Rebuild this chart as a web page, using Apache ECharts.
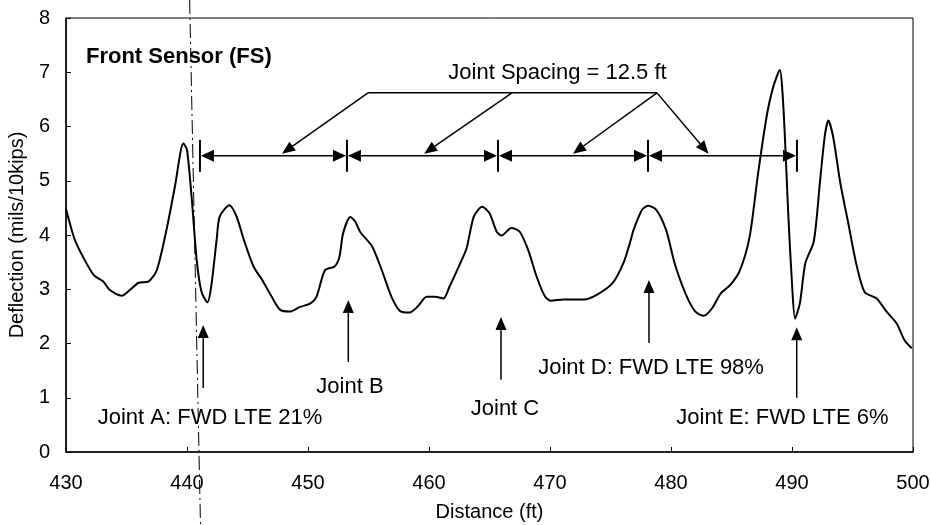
<!DOCTYPE html>
<html><head><meta charset="utf-8">
<script src="https://cdn.jsdelivr.net/npm/echarts@6/dist/echarts.min.js"></script>
<style>html,body{margin:0;padding:0;background:#fff}#c{width:931px;height:525px}</style>
</head><body><div id="c"></div>
<script>
// ---- data ----
const distance = [430.0,430.7,431.4,432.3,433.1,433.6,434.6,435.3,436.0,436.8,437.5,438.3,439.0,439.7,440.0,440.4,440.8,441.2,441.7,442.0,442.45,442.7,443.5,444.1,444.7,445.5,446.3,447.0,447.7,448.5,449.3,450.2,450.7,451.4,452.2,452.6,452.9,453.5,453.9,454.3,455.3,456.1,456.9,457.6,458.4,459.1,459.8,460.5,461.2,461.7,462.4,463.1,463.7,464.4,465.0,465.6,466.0,466.8,467.5,468.2,468.9,469.6,470.1,471.1,472.8,473.9,475.2,476.1,476.6,476.9,477.6,478.1,478.8,479.6,480.3,481.2,482.0,482.7,483.4,484.1,484.9,485.7,486.5,487.2,487.9,488.45,489.0,489.2,489.4,489.7,490.0,490.25,490.65,491.1,491.8,492.3,492.7,493.0,493.4,494.0,494.65,495.3,496.0,497.0,497.8,498.65,499.3,499.9];
const deflection = [4.48,3.93,3.60,3.26,3.14,2.99,2.88,2.99,3.12,3.14,3.35,4.09,4.89,5.69,5.57,4.65,3.54,2.95,2.76,3.05,3.91,4.34,4.55,4.34,3.91,3.42,3.14,2.86,2.62,2.59,2.67,2.74,2.86,3.35,3.42,3.60,4.03,4.33,4.25,4.06,3.79,3.35,2.86,2.60,2.57,2.69,2.86,2.86,2.83,3.05,3.39,3.75,4.34,4.52,4.40,4.06,3.99,4.13,4.06,3.72,3.23,2.86,2.79,2.81,2.81,2.90,3.12,3.50,3.85,4.09,4.46,4.54,4.46,4.09,3.48,2.92,2.59,2.51,2.65,2.92,3.08,3.35,3.97,5.14,6.18,6.73,7.04,6.67,5.87,4.34,3.11,2.46,2.74,3.48,3.88,4.95,5.81,6.11,5.81,4.95,4.22,3.48,2.95,2.83,2.59,2.37,2.06,1.91];
const xTicks = [430,440,450,460,470,480,490,500];
const yTicks = [0,1,2,3,4,5,6,7,8];

// annotations (data units)
const panelTitle = "Front Sensor (FS)";
const spacingText = "Joint Spacing = 12.5 ft";
const spacingTextPos = [461.6, 6.98];
const spacingTicks = [441.07, 453.22, 465.70, 478.10, 490.41];
const spacingLevel = 5.46;
const apexX = [454.96, 466.86, 478.84];
const apexLevel = 6.62;
const leaderTargetX = [447.85, 459.6, 471.9, 483.1];
const leaderApexIdx = [0, 1, 2, 2];
const leaderTipLevel = 5.50;
const jointLabels = ["Joint A: FWD LTE 21%", "Joint B", "Joint C", "Joint D: FWD LTE 98%", "Joint E: FWD LTE 6%"];
const jointArrowX = [441.34, 453.33, 465.95, 478.18, 490.39];
const jointTip = [2.34, 2.80, 2.49, 3.17, 2.30];
const jointTail = [1.18, 1.66, 1.33, 2.01, 1.00];
const jointLabelX = [441.9, 453.47, 466.28, 478.35, 489.21];
const jointLabelY = [0.63, 1.20, 0.80, 1.55, 0.63];
const dashLineX = [440.25, 440.99]; // top, bottom (slightly slanted in the scan)

const FONT = '"Liberation Sans", Arial, sans-serif';
const chart = echarts.init(document.getElementById('c'), null, {renderer: 'canvas'});
const option = {
  animation: false,
  backgroundColor: '#fff',
  grid: {left: 66, right: 18, top: 18, bottom: 73, show: true, borderColor: '#000', borderWidth: 1,
    containLabel: false, outerBoundsMode: 'none'},
  xAxis: {
    type: 'value', min: 430, max: 500, interval: 10,
    name: 'Distance (ft)', nameLocation: 'middle', nameGap: 50,
    nameTextStyle: {fontFamily: FONT, fontSize: 20, color: '#000'},
    axisLine: {lineStyle: {color: '#000', width: 1.5}},
    axisTick: {inside: true, length: 5, lineStyle: {color: '#000'}},
    axisLabel: {margin: 21, fontFamily: FONT, fontSize: 20, color: '#000',
      formatter: v => xTicks.includes(v) ? String(v) : ''},
    splitLine: {show: false}
  },
  yAxis: {
    type: 'value', min: 0, max: 8, interval: 1,
    name: 'Deflection (mils/10kips)', nameLocation: 'middle', nameGap: 36,
    nameTextStyle: {fontFamily: FONT, fontSize: 20, color: '#000'},
    axisLine: {show: true, lineStyle: {color: '#000', width: 1.5}},
    axisTick: {show: true, inside: true, length: 5, lineStyle: {color: '#000'}},
    axisLabel: {margin: 16, fontFamily: FONT, fontSize: 20, color: '#000',
      formatter: v => yTicks.includes(v) ? String(v) : ''},
    splitLine: {show: false}
  },
  series: [{
    type: 'line', data: distance.map((d, i) => [d, deflection[i]]),
    showSymbol: false, smooth: 0.25,
    lineStyle: {color: '#000', width: 2}
  }]
};
chart.setOption(option);

const P = (x, y) => chart.convertToPixel({gridIndex: 0}, [x, y]);
const g = [];
function line(a, b, w, dash) {
  g.push({type: 'line', silent: true, shape: {x1: a[0], y1: a[1], x2: b[0], y2: b[1]},
    style: {stroke: '#000', lineWidth: w || 1.5, lineDash: dash || null}});
}
function head(tip, from, len, wid) {
  const dx = tip[0] - from[0], dy = tip[1] - from[1];
  const L = Math.hypot(dx, dy), ux = dx / L, uy = dy / L;
  const bx = tip[0] - ux * len, by = tip[1] - uy * len;
  g.push({type: 'polygon', silent: true, shape: {points: [tip, [bx - uy * wid / 2, by + ux * wid / 2], [bx + uy * wid / 2, by - ux * wid / 2]]},
    style: {fill: '#000'}});
  return [bx, by];
}
function arrow(from, tip, w) {
  const b = head(tip, from, 13, 11);
  line(from, b, w);
}
function text(str, p, size, bold, align) {
  const font = (bold ? 'bold ' : '') + size + 'px ' + FONT;
  g.push({type: 'text', silent: true, style: {text: str, x: p[0], y: p[1], font: font, fill: '#000',
    textAlign: align || 'center', textVerticalAlign: 'middle', align: align || 'center', verticalAlign: 'middle'}});
}

// dash-dot vertical line through the full picture height
const topP = P(dashLineX[0], 8), botP = P(dashLineX[1], 0);
const H = 525;
const slope = (botP[0] - topP[0]) / (botP[1] - topP[1]);
line([topP[0] - slope * topP[1], 0], [topP[0] + slope * (H - topP[1]), H], 1, [14, 4, 2, 4]);

// panel title
text(panelTitle, P(431.65, 7.29), 22, true, 'left');

// spacing dimension line
for (let i = 0; i < spacingTicks.length; i++) {
  const t = P(spacingTicks[i], spacingLevel);
  line([t[0], t[1] - 16], [t[0], t[1] + 16], 2);
}
for (let i = 0; i < spacingTicks.length - 1; i++) {
  const a = P(spacingTicks[i], spacingLevel), b = P(spacingTicks[i + 1], spacingLevel);
  const ha = head([a[0] + 1, a[1]], b, 13, 12);
  const hb = head([b[0] - 1, b[1]], a, 13, 12);
  line(ha, hb, 1.5);
}
// leader lines
const a0 = P(apexX[0], apexLevel), a2 = P(apexX[2], apexLevel);
line(a0, a2, 1.5);
for (let i = 0; i < leaderTargetX.length; i++) {
  arrow(P(apexX[leaderApexIdx[i]], apexLevel), P(leaderTargetX[i], leaderTipLevel), 1.5);
}
text(spacingText, P(spacingTextPos[0], spacingTextPos[1]), 22, false, 'left');

// joint arrows and labels
for (let i = 0; i < jointLabels.length; i++) {
  arrow(P(jointArrowX[i], jointTail[i]), P(jointArrowX[i], jointTip[i]), 1.5);
  text(jointLabels[i], P(jointLabelX[i], jointLabelY[i]), 22, false, 'center');
}
chart.setOption({graphic: {elements: g}});
</script></body></html>
